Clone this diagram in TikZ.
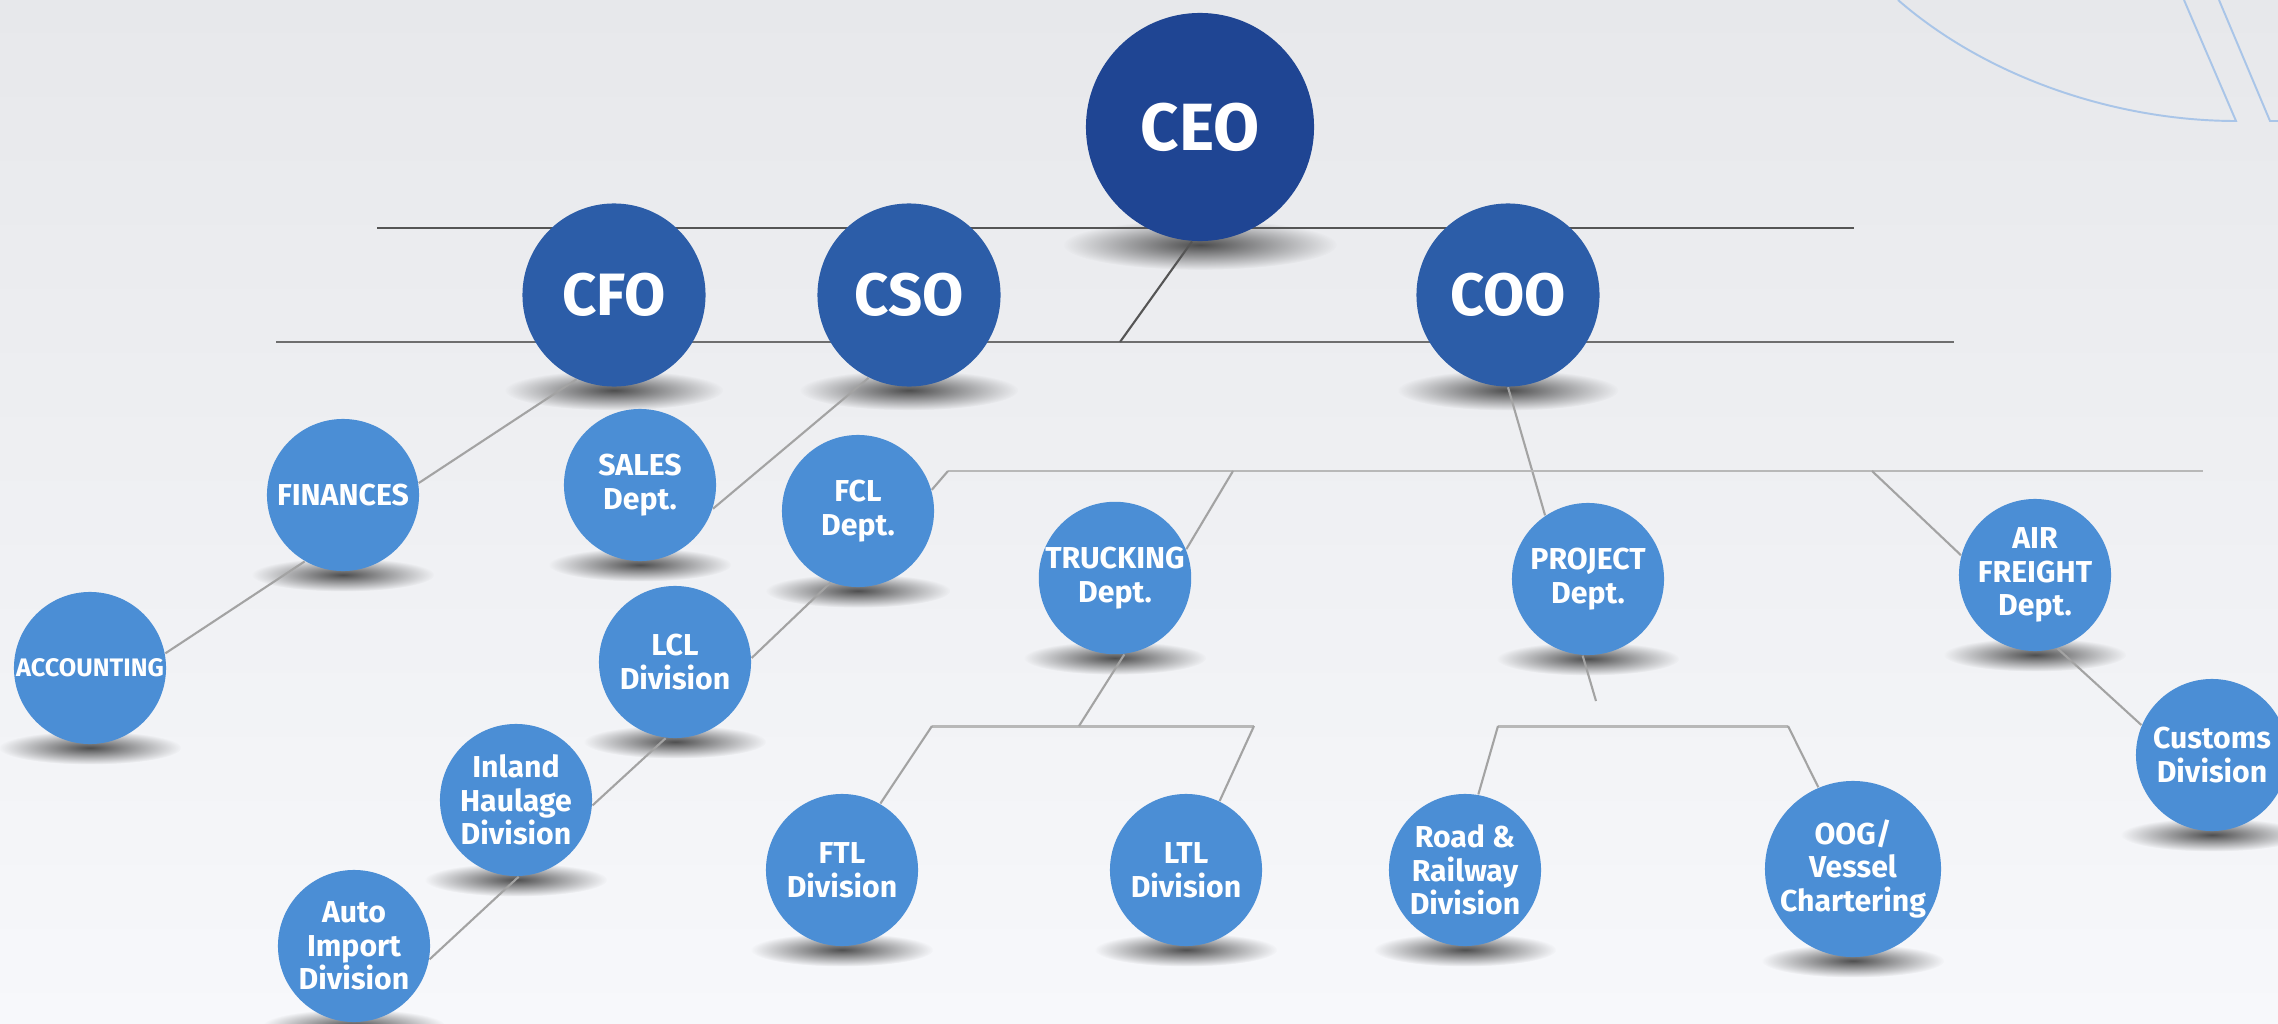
\documentclass[tikz,border=0pt]{standalone}
\usepackage{fontspec}
\setmainfont{Fira Sans}
\usetikzlibrary{fadings}

\definecolor{ceoblue}{HTML}{1F4593}
\definecolor{chiefblue}{HTML}{2C5DA8}
\definecolor{unitblue}{HTML}{4B8ED5}
\definecolor{barline}{HTML}{555555}
\definecolor{linkline}{HTML}{A3A3A3}
\definecolor{busline}{HTML}{B8B8B8}
\definecolor{decoline}{HTML}{A9C5E8}
\definecolor{bgtop}{HTML}{E7E8EB}
\definecolor{bgmid}{HTML}{F3F4F7}
\definecolor{bgbottom}{HTML}{F7F8FB}

\tikzfading[name=fadeshadow, inner color=transparent!20, outer color=transparent!100]
\pgfdeclarelayer{back}
\pgfsetlayers{back,main}

\tikzset{
  boss/.style={circle, fill=ceoblue, text=white, minimum size=2.28cm, inner sep=0pt,
    font=\bfseries\fontsize{19}{21}\selectfont},
  chief/.style={boss, fill=chiefblue, minimum size=1.83cm,
    font=\bfseries\fontsize{17}{19}\selectfont},
  unit/.style={circle, fill=unitblue, text=white, minimum size=1.52cm, inner sep=0pt,
    align=center, font=\bfseries\fontsize{8.6}{9.6}\selectfont},
  bar/.style={line width=0.85pt, barline},
  link/.style={line width=0.6pt, linkline},
  bus/.style={line width=0.85pt, busline},
  deco/.style={line width=0.55pt, decoline},
}

\begin{document}
\begin{tikzpicture}[x=0.01cm, y=-0.01cm]
\useasboundingbox (0,0) rectangle (2278,1024);

% chiefs
\node[boss] (ceo) at (1200,127) {CEO};
\node[chief] (cfo) at (614,295) {CFO};
\node[chief] (cso) at (909,295) {CSO};
\node[chief] (coo) at (1508,295) {COO};

% departments and divisions
\node[unit] (fin) at (343,495) {FINANCES};
\node[unit, font=\bfseries\fontsize{7.2}{8}\selectfont] (acc) at (90,668) {ACCOUNTING};
\node[unit] (sales) at (640,485) {SALES\\Dept.};
\node[unit] (fcl) at (858,511) {FCL\\Dept.};
\node[unit] (lcl) at (675,662) {LCL\\Division};
\node[unit] (inland) at (516,800) {Inland\\Haulage\\Division};
\node[unit] (auto) at (354,946) {Auto\\Import\\Division};
\node[unit] (truck) at (1115,578) {TRUCKING\\Dept.};
\node[unit] (ftl) at (842,870) {FTL\\Division};
\node[unit] (ltl) at (1186,870) {LTL\\Division};
\node[unit] (proj) at (1588,579) {PROJECT\\Dept.};
\node[unit] (road) at (1465,870) {Road \&\\Railway\\Division};
\node[unit] (oog) at (1853,869) {OOG/\\Vessel\\Chartering};
\node[unit] (air) at (2035,575) {AIR\\FREIGHT\\Dept.};
\node[unit] (cust) at (2212,755) {Customs\\Division};

% free ends of the bars
\coordinate (barA1) at (377,228);
\coordinate (barA2) at (1854,228);
\coordinate (barB1) at (276,342);
\coordinate (barB2) at (1954,342);
\coordinate (ceojoin) at (1120,342);
\coordinate (busA1) at (948,471);
\coordinate (busA2) at (2203,471);
\coordinate (truckjoin) at (1233,471);
\coordinate (airjoin) at (1872,471);
\coordinate (busB1) at (932,726);
\coordinate (busB2) at (1254,726);
\coordinate (truckdown) at (1079,726);
\coordinate (busC1) at (1498,726);
\coordinate (busC2) at (1788,726);
\coordinate (projstub) at (1596,701);

\begin{pgfonlayer}{back}
\shade[top color=bgtop, middle color=bgmid, bottom color=bgbottom] (0,0) rectangle (2278,1024);

% top right ornament
\draw[deco] (1898,0) .. controls (1990,80) and (2120,121) .. (2236,121) -- (2184,0);
\draw[deco] (2219,0) -- (2270,121) -- (2278,121);

% shadows
\foreach \n/\r in {ceo/114, cfo/91, cso/91, coo/92, fin/76, acc/76, sales/76, fcl/77,
    lcl/76, inland/76, auto/76, truck/76, ftl/76, ltl/76, proj/76, road/76, oog/76,
    air/76, cust/76}
  \fill[black!85, path fading=fadeshadow] (\n.south) ++(0,3) ellipse [x radius=1.2*\r, y radius=0.22*\r];

% bars
\draw[bar] (barA1) -- (barA2);
\draw[bar, barline!85] (barB1) -- (barB2);
\draw[bar, line width=0.6pt] (ceo.-94) -- (ceojoin);

% links
\draw[link] (cfo.246) -- (fin.9);
\draw[link] (fin.240) -- (acc.11);
\draw[link] (cso.244) -- (sales.-18);
\draw[link] (fcl.249) -- (lcl.3);
\draw[link] (lcl.263) -- (inland.-4);
\draw[link] (inland.-88) -- (auto.-10);
\draw[link] (coo.-90) -- (proj.124);
\draw[link] (proj.-94) -- (projstub);

\draw[bus] (busA1) -- (busA2);
\draw[link] (fcl.16) -- (busA1);
\draw[link] (truckjoin) -- (truck.22);
\draw[link] (airjoin) -- (air.165);
\draw[link] (air.-73) -- (cust.157);

\draw[bus] (busB1) -- (busB2);
\draw[link] (truck.-83) -- (truckdown);
\draw[link] (busB1) -- (ftl.60);
\draw[link] (busB2) -- (ltl.64);

\draw[bus] (busC1) -- (busC2);
\draw[link] (busC1) -- (road.80);
\draw[link] (busC2) -- (oog.113);
\end{pgfonlayer}
\end{tikzpicture}
\end{document}
